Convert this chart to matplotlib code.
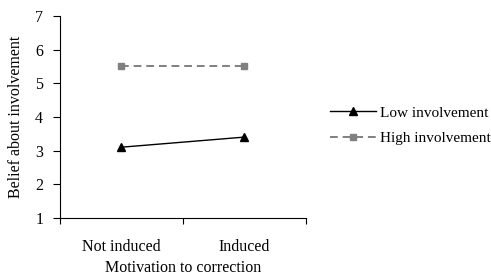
import matplotlib

matplotlib.use("Agg")
import matplotlib.pyplot as plt
from matplotlib.ticker import FixedLocator

plt.rcParams["font.family"] = ["Liberation Serif", "DejaVu Serif"]

categories = ["Not induced", "Induced"]
low_involvement = [3.1, 3.4]
high_involvement = [5.5, 5.5]
y_ticks = [1, 2, 3, 4, 5, 6, 7]

fig = plt.figure(figsize=(4.91, 2.79), dpi=100)
ax = fig.add_axes([0.122, 0.219, 0.501, 0.724])

x = [i + 0.5 for i in range(len(categories))]
ax.plot(x, low_involvement, color="black", lw=1, marker="^", ms=6,
        label="Low involvement")
ax.plot(x, high_involvement, color="#808080", lw=1.4, ls=(0, (4, 2.5)),
        marker="s", ms=4.5, label="High involvement")

ax.set_xlim(0, len(categories))
ax.set_ylim(1, 7)
ax.set_yticks(y_ticks)
ax.xaxis.set_major_locator(FixedLocator(range(len(categories) + 1)))
ax.xaxis.set_minor_locator(FixedLocator(x))
ax.set_xticklabels([])
ax.set_xticklabels(categories, minor=True)
ax.tick_params(axis="x", which="major", direction="out", length=4, width=0.8)
ax.tick_params(axis="x", which="minor", length=0, pad=15, labelsize=11.5)
ax.tick_params(axis="y", direction="out", length=5, width=0.8, labelsize=11.5,
               pad=7)

for side in ["top", "right"]:
    ax.spines[side].set_visible(False)

ax.set_xlabel("Motivation to correction", fontsize=11.5, labelpad=4)
ax.set_ylabel("Belief about involvement", fontsize=11.5, labelpad=8)

fig.legend(loc="center left", bbox_to_anchor=(0.672, 0.55), frameon=False,
           fontsize=11, handlelength=3.0, handletextpad=0.3,
           labelspacing=0.75, borderaxespad=0, borderpad=0)

fig.savefig("out.png", dpi=100)
